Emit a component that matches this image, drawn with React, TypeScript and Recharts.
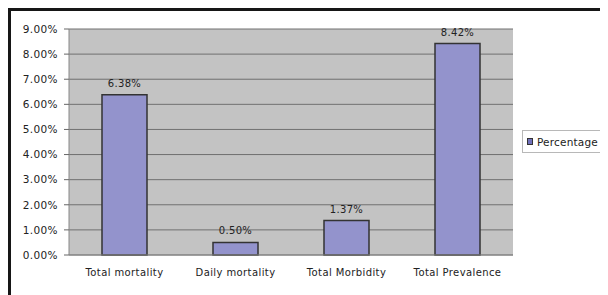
import React from 'react';
import { BarChart, Bar, XAxis, YAxis, CartesianGrid, LabelList } from 'recharts';

const categories = ['Total mortality', 'Daily mortality', 'Total Morbidity', 'Total Prevalence'];
const percentage = [6.38, 0.5, 1.37, 8.42];
const yTicks = [0, 1, 2, 3, 4, 5, 6, 7, 8, 9];
const boundaryTicks = [0, 1, 2, 3, 4];
const seriesName = 'Percentage';

const data = categories.map((c, i) => ({ name: c, value: percentage[i] }));
const fmt = (v: number) => `${Number(v).toFixed(2)}%`;
const FONT = 'DejaVu Sans, Liberation Sans, Arial, sans-serif';

const LegendBox = () => (
  <div
    style={{
      position: 'absolute',
      left: 514,
      top: 122,
      width: 81,
      height: 23,
      boxSizing: 'border-box',
      border: '1px solid #b8b8b8',
      padding: '0 4px',
      display: 'flex',
      alignItems: 'center',
      fontFamily: FONT,
      fontSize: 10.5,
      letterSpacing: 0.2,
      color: '#222',
      background: '#fff',
      whiteSpace: 'nowrap',
      zIndex: 3,
    }}
  >
    <span
      style={{
        display: 'inline-block',
        width: 5,
        height: 5,
        background: '#7070bb',
        border: '1px solid #333',
        marginRight: 4,
      }}
    />
    {seriesName}
  </div>
);

export default function App() {
  return (
    <div style={{ position: 'relative', width: 600, height: 287 }}>
      <div style={{ position: 'absolute', left: 0, top: 0 }}>
        <BarChart
          width={600}
          height={287}
          data={data}
          margin={{ top: 21, right: 95, left: 0, bottom: 10 }}
        >
          <CartesianGrid vertical={false} fill="#c3c3c3" stroke="#707070" strokeWidth={1} />
          <XAxis
            xAxisId="b"
            type="number"
            domain={[0, 4]}
            ticks={boundaryTicks}
            height={0}
            tick={false}
            tickSize={3}
            axisLine={false}
            tickLine={{ stroke: '#888' }}
          />
          <XAxis
            dataKey="name"
            height={30}
            tickLine={false}
            tickSize={0}
            tickMargin={14}
            axisLine={{ stroke: '#888' }}
            tick={{ fontFamily: FONT, fontSize: 10, fill: '#222', letterSpacing: 0.4 }}
            interval={0}
          />
          <YAxis
            width={61}
            domain={[0, 9]}
            ticks={yTicks}
            tickFormatter={fmt}
            tickSize={5}
            tickMargin={6}
            axisLine={{ stroke: '#888' }}
            tickLine={{ stroke: '#666' }}
            tick={{ fontFamily: FONT, fontSize: 10.5, fill: '#222', letterSpacing: 0.4 }}
          />
          <YAxis
            yAxisId="r"
            orientation="right"
            width={0}
            domain={[0, 9]}
            tick={false}
            tickLine={false}
            axisLine={{ stroke: '#a8a8a8' }}
          />
          <Bar
            dataKey="value"
            name={seriesName}
            fill="#9393cc"
            stroke="#333"
            strokeWidth={1.5}
            barSize={45}
            isAnimationActive={false}
          >
            <LabelList
              dataKey="value"
              position="top"
              offset={8}
              formatter={(v: any) => fmt(v)}
              style={{ fontFamily: FONT, fontSize: 10, fill: '#222', letterSpacing: 0.3 }}
            />
          </Bar>
        </BarChart>
      </div>
      <LegendBox />
      <div
        style={{
          position: 'absolute',
          left: 0,
          top: 0,
          width: 620,
          height: 300,
          borderTop: '3px solid #161616',
          borderLeft: '3px solid #161616',
          boxSizing: 'border-box',
          zIndex: 5,
          pointerEvents: 'none',
        }}
      />
    </div>
  );
}
